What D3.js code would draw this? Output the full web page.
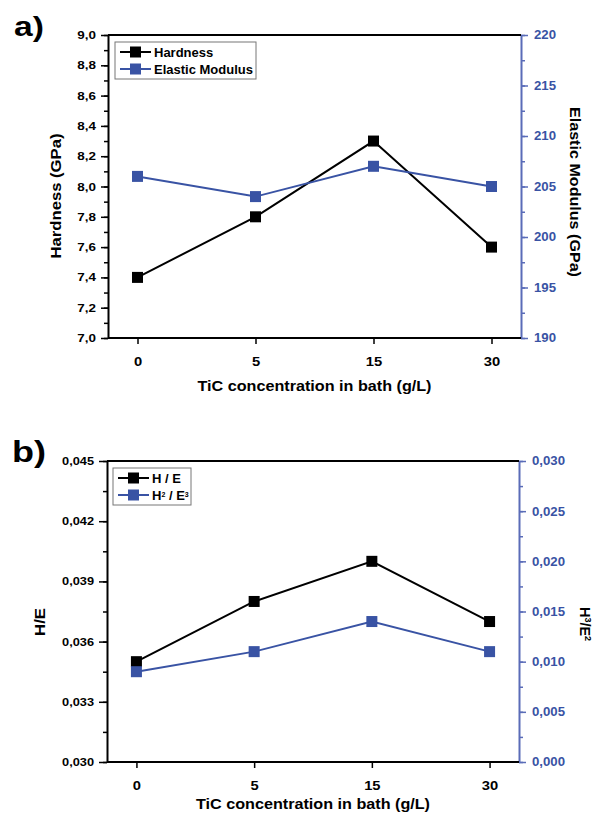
<!DOCTYPE html>
<html><head><meta charset="utf-8">
<script src="https://cdn.jsdelivr.net/npm/d3@7"></script>
<style>body{margin:0;background:#fff}svg{display:block}text{font-family:"Liberation Sans",Arial,sans-serif;font-weight:bold}</style>
</head><body>
<svg id="c" width="600" height="823"></svg>
<script>
const categories = ["0","5","15","30"];
const hardness = [7.4, 7.8, 8.3, 7.6];
const modulus = [206, 204, 207, 205];
const hOverE = [0.035, 0.038, 0.040, 0.037];
const h3e2 = [0.009, 0.011, 0.014, 0.011];
const aLeftTicks = [7.0,7.2,7.4,7.6,7.8,8.0,8.2,8.4,8.6,8.8,9.0];
const aRightTicks = [190,195,200,205,210,215,220];
const bLeftTicks = [0.030,0.033,0.036,0.039,0.042,0.045];
const bRightTicks = [0.000,0.005,0.010,0.015,0.020,0.025,0.030];

const BLACK="#000", BLUE="#3953a4", BLUEAX="#5a6cb8";
const svg = d3.select("#c");
const comma = (d,n)=> d.toFixed(n).replace(".",",");
function stretch(sel,k){
  sel.each(function(){
    const l=this.getComputedTextLength();
    this.setAttribute("textLength",(l*k).toFixed(2));
    this.setAttribute("lengthAdjust","spacingAndGlyphs");
  });
}
function fixLen(sel,len){ sel.attr("textLength",len).attr("lengthAdjust","spacingAndGlyphs"); }

function panel(o){
  const g = svg.append("g");
  const x = d3.scalePoint().domain(categories).range([o.x0,o.x1]).padding(0.25);
  const yL = d3.scaleLinear().domain(o.lDom).range([o.y1,o.y0]);
  const yR = d3.scaleLinear().domain(o.rDom).range([o.y1,o.y0]);
  const lMinor = d3.range(o.lDom[0], o.lDom[1]+1e-9, o.lStep/2);
  const rMinor = d3.range(o.rDom[0], o.rDom[1]+1e-9, o.rStep/2);
  g.append("g").attr("transform",`translate(${o.x0},0)`)
    .call(d3.axisLeft(yL).tickValues(lMinor).tickSize(4).tickFormat(""))
    .call(a=>{a.select(".domain").remove();a.selectAll("line").attr("stroke",BLACK).attr("stroke-width",1.5);});
  g.append("g").attr("transform",`translate(${o.x1},0)`)
    .call(d3.axisRight(yR).tickValues(rMinor).tickSize(4).tickFormat(""))
    .call(a=>{a.select(".domain").remove();a.selectAll("line").attr("stroke",BLUEAX).attr("stroke-width",1.5);});
  const la = g.append("g").attr("transform",`translate(${o.x0},0)`)
    .call(d3.axisLeft(yL).tickValues(o.lTicks).tickSize(o.lTick).tickSizeOuter(0).tickPadding(5).tickFormat(d=>comma(d,o.lDec)));
  la.selectAll("line").attr("stroke",BLACK).attr("stroke-width",1.5);
  la.select(".domain").attr("stroke",BLACK).attr("stroke-width",2);
  la.selectAll("text").attr("fill",BLACK).style("font-size","11px").call(stretch,o.lK);
  const ra = g.append("g").attr("transform",`translate(${o.x1},0)`)
    .call(d3.axisRight(yR).tickValues(o.rTicks).tickSize(7).tickSizeOuter(0).tickPadding(6).tickFormat(d=>o.rDec?comma(d,o.rDec):d));
  ra.selectAll("line").attr("stroke",BLUEAX).attr("stroke-width",1.5);
  ra.select(".domain").attr("stroke",BLUEAX).attr("stroke-width",2);
  ra.selectAll("text").attr("fill",BLUE).style("font-size","12px").call(stretch,1.1);
  const xa = g.append("g").attr("transform",`translate(0,${o.y1})`)
    .call(d3.axisBottom(x).tickSize(6).tickSizeOuter(0).tickPadding(13));
  xa.select(".domain").attr("stroke",BLACK).attr("stroke-width",2).attr("d",`M${o.x0},0H${o.x1}`);
  xa.selectAll("line").attr("stroke",BLACK).attr("stroke-width",1.5);
  xa.selectAll("text").attr("fill",BLACK).style("font-size","12.5px").call(stretch,1.18);
  g.append("line").attr("x1",o.x0).attr("x2",o.x1).attr("y1",o.y0).attr("y2",o.y0).attr("stroke",BLACK).attr("stroke-width",2);
  const series = [{v:o.s1,y:yL,c:BLACK},{v:o.s2,y:yR,c:BLUE}];
  series.forEach(s=>{
    g.append("path").datum(s.v).attr("fill","none").attr("stroke",s.c).attr("stroke-width",2)
      .attr("d",d3.line().x((d,i)=>x(categories[i])).y(d=>s.y(d)));
  });
  series.forEach(s=>{
    g.selectAll(null).data(s.v).enter().append("rect")
      .attr("x",(d,i)=>x(categories[i])-5.5).attr("y",d=>s.y(d)-5.5)
      .attr("width",11).attr("height",11).attr("fill",s.c);
  });
  const L = o.leg;
  g.append("rect").attr("x",L.x).attr("y",L.y).attr("width",L.w).attr("height",L.h)
    .attr("fill","#fff").attr("stroke","#777").attr("stroke-width",1);
  L.items.forEach((it,i)=>{
    const yy = L.y+10+i*17;
    const c = i? BLUE:BLACK;
    g.append("line").attr("x1",L.x+5).attr("x2",L.x+36).attr("y1",yy).attr("y2",yy).attr("stroke",c).attr("stroke-width",2);
    g.append("rect").attr("x",L.x+15).attr("y",yy-5.5).attr("width",11).attr("height",11).attr("fill",c);
    const t = g.append("text").attr("x",L.x+39).attr("y",yy+5).style("font-size","13px").attr("fill",BLACK);
    it.forEach(p=>{ const ts=t.append("tspan").text(p[0]); if(p[1]) ts.attr("baseline-shift","super").style("font-size","7px"); });
  });
  const lab = g.append("text").attr("x",o.lab.x).attr("y",o.lab.y).style("font-size",o.lab.fs+"px").text(o.lab.t);
  stretch(lab,1.2);
  const yl = g.append("text").attr("transform",`translate(${o.yl.x},${o.yl.y}) rotate(-90)`).attr("text-anchor","middle").style("font-size","14.5px").text(o.yl.t);
  fixLen(yl,o.yl.len);
  const rt = g.append("text").attr("transform",`translate(${o.yr.x},${o.yr.y}) rotate(90)`).attr("text-anchor","middle").style("font-size","14.5px");
  o.yr.t.forEach(p=>{ const ts=rt.append("tspan").text(p[0]); if(p[1]) ts.attr("baseline-shift","super").style("font-size","9px"); });
  if(o.yr.len) fixLen(rt,o.yr.len);
  const xt = g.append("text").attr("x",(o.x0+o.x1)/2).attr("y",o.xl.y).attr("text-anchor","middle").style("font-size","14px").text("TiC concentration in bath (g/L)");
  fixLen(xt,234);
}

panel({x0:108,x1:521,y0:35,y1:338,lDom:[7,9],lStep:0.2,lTicks:aLeftTicks,lDec:1,lTick:7,lK:1.22,
  rDom:[190,220],rStep:5,rTicks:aRightTicks,rDec:0,s1:hardness,s2:modulus,
  leg:{x:115,y:42,w:141,h:37,items:[[["Hardness"]],[["Elastic Modulus"]]]},
  lab:{x:14,y:36,fs:28,t:"a)"}, yl:{x:61,y:196,t:"Hardness (GPa)",len:125},
  yr:{x:570,y:192,t:[["Elastic Modulus (GPa)"]],len:170}, xl:{y:391}});
panel({x0:107,x1:519,y0:461,y1:762,lDom:[0.030,0.045],lStep:0.003,lTicks:bLeftTicks,lDec:3,lTick:8,lK:1.16,
  rDom:[0,0.030],rStep:0.005,rTicks:bRightTicks,rDec:3,s1:hOverE,s2:h3e2,
  leg:{x:113,y:468,w:78,h:37,items:[[["H / E"]],[["H"],["2",1],[" / E"],["3",1]]]},
  lab:{x:12,y:462,fs:30,t:"b)"}, yl:{x:45,y:622,t:"H/E",len:28},
  yr:{x:580,y:624,t:[["H"],["3",1],["/E"],["2",1]]}, xl:{y:809}});
</script>
</body></html>
